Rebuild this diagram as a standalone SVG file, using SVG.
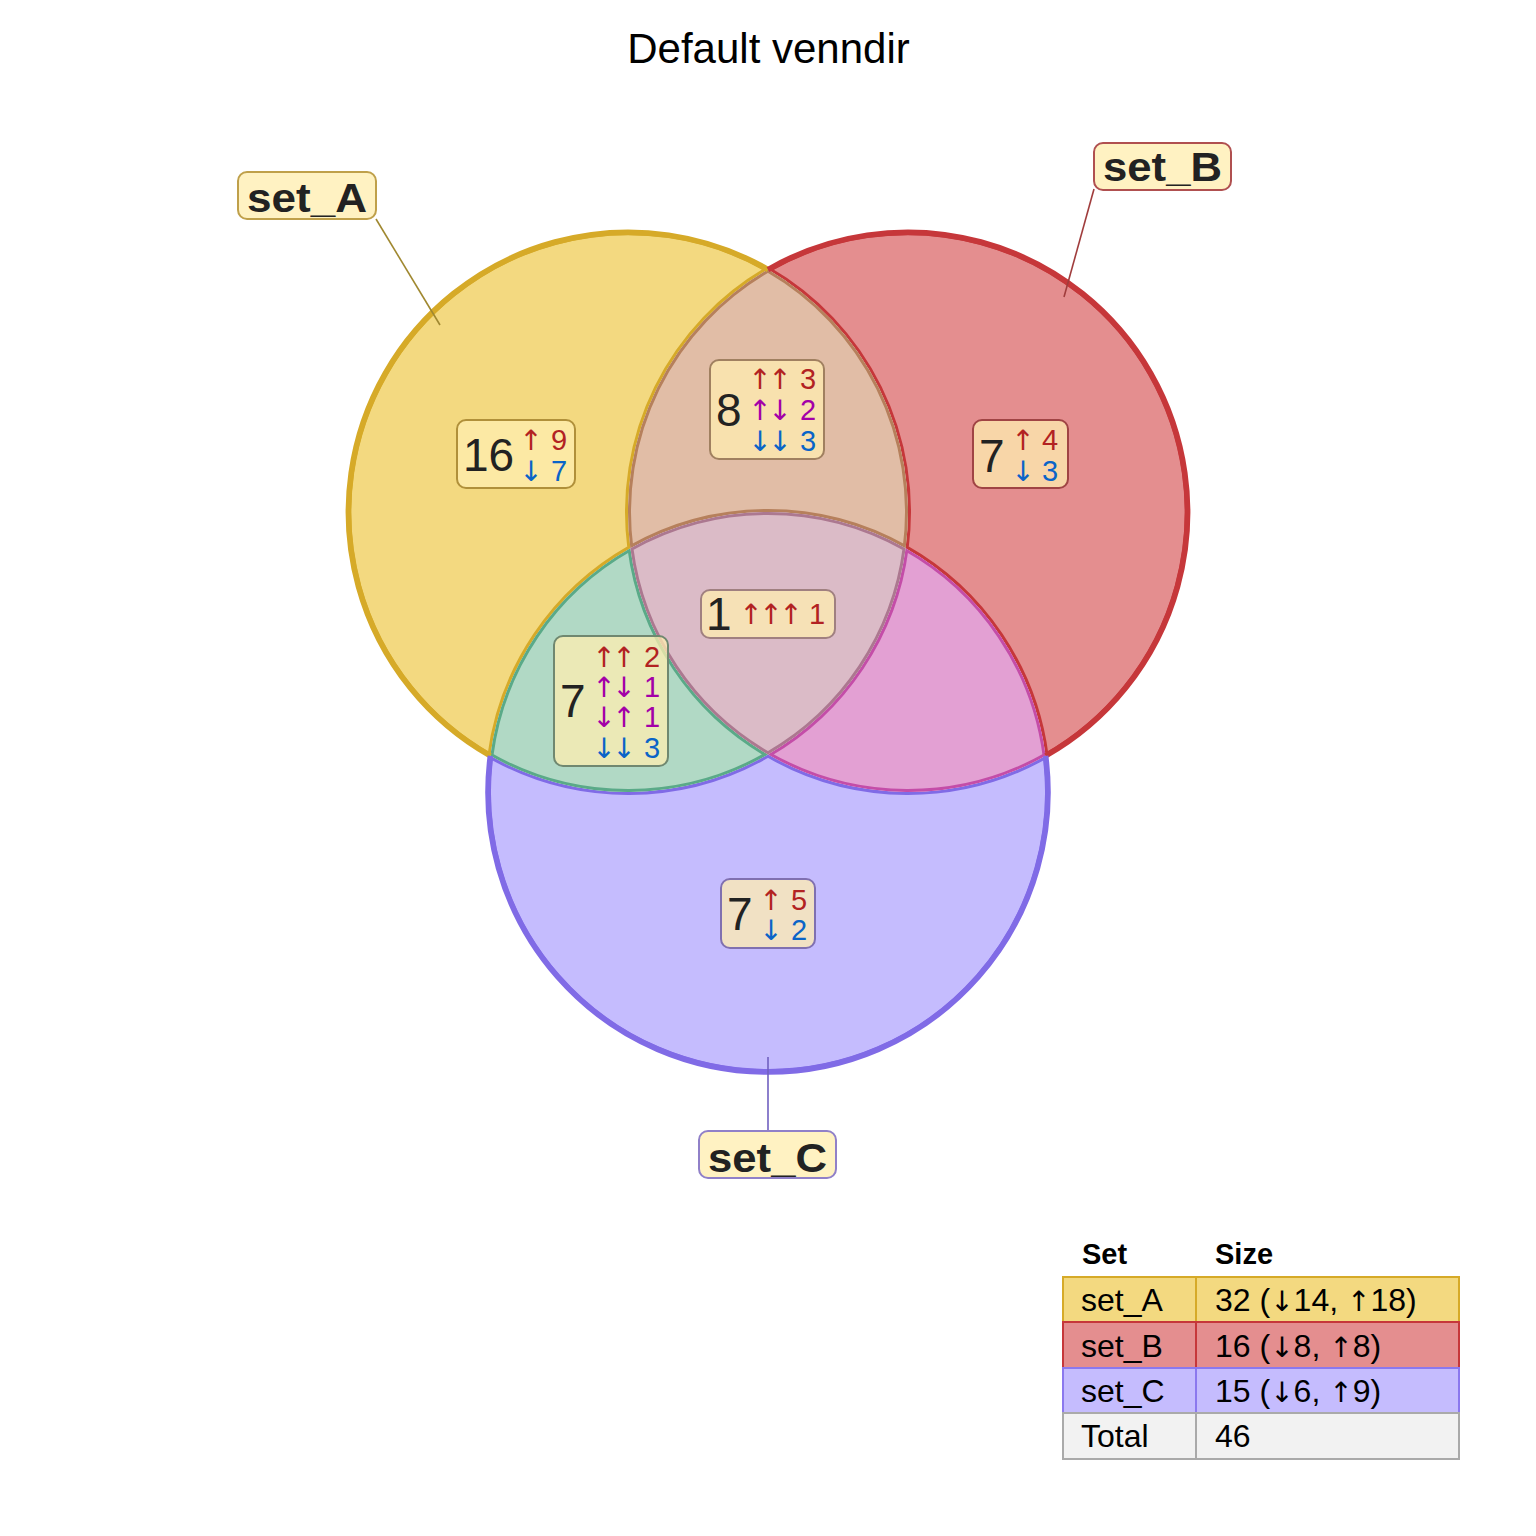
<svg xmlns="http://www.w3.org/2000/svg" xmlns:xlink="http://www.w3.org/1999/xlink" width="1536" height="1536" viewBox="0 0 1536 1536">
<style>
text{font-family:"Liberation Sans",Arial,"DejaVu Sans",sans-serif;}
.title{font-size:42px;fill:#000;}
.cnt{font-size:46px;fill:#222;}
.sm{font-size:29px;}
.ar{text-anchor:middle;font-family:"DejaVu Sans",sans-serif;font-size:28px;}
.ta{font-family:"DejaVu Sans",sans-serif;font-size:28px;}
.up{fill:#B22222;}
.dn{fill:#0A64C8;}
.mx{fill:#A300A8;}
.setlab{font-size:40px;font-weight:bold;fill:#222;}
.box{fill:#FFEEB0;fill-opacity:0.75;stroke-width:2;}
.lab{fill:#FFF2C2;stroke-width:2;}
.lead{stroke-width:1.6;fill:none;}
.tb{font-size:32px;fill:#000;}
.th{font-size:29px;font-weight:bold;fill:#000;}
.cell{stroke-width:2;}
</style>
<defs>
<path id="pA" d="M768,269.51 A280,280 0 1 0 490.35,755.83 A280,280 0 0 1 630.35,548.17 A280,280 0 0 1 768,269.51 Z"/>
<path id="pB" d="M768,269.51 A280,280 0 1 1 1045.65,755.83 A280,280 0 0 0 905.65,548.17 A280,280 0 0 0 768,269.51 Z"/>
<path id="pC" d="M490.35,755.83 A280,280 0 1 0 1045.65,755.83 A280,280 0 0 1 768,754.49 A280,280 0 0 1 490.35,755.83 Z"/>
<path id="pAB" d="M768,269.51 A280,280 0 0 1 905.65,548.17 A280,280 0 0 0 630.35,548.17 A280,280 0 0 1 768,269.51 Z"/>
<path id="pAC" d="M490.35,755.83 A280,280 0 0 1 630.35,548.17 A280,280 0 0 0 768,754.49 A280,280 0 0 1 490.35,755.83 Z"/>
<path id="pBC" d="M1045.65,755.83 A280,280 0 0 0 905.65,548.17 A280,280 0 0 1 768,754.49 A280,280 0 0 0 1045.65,755.83 Z"/>
<path id="pABC" d="M630.35,548.17 A280,280 0 0 1 905.65,548.17 A280,280 0 0 1 768,754.49 A280,280 0 0 1 630.35,548.17 Z"/>
<clipPath id="cA"><use xlink:href="#pA"/></clipPath>
<clipPath id="cB"><use xlink:href="#pB"/></clipPath>
<clipPath id="cC"><use xlink:href="#pC"/></clipPath>
<clipPath id="cAB"><use xlink:href="#pAB"/></clipPath>
<clipPath id="cAC"><use xlink:href="#pAC"/></clipPath>
<clipPath id="cBC"><use xlink:href="#pBC"/></clipPath>
<clipPath id="cABC"><use xlink:href="#pABC"/></clipPath>
</defs>
<rect width="1536" height="1536" fill="#fff"/>
<text class="title" x="768.5" y="63" text-anchor="middle">Default venndir</text>

<g id="regions" stroke-width="6">
<use id="region-A" xlink:href="#pA" fill="#F3D980" stroke="#D6AA28" clip-path="url(#cA)"/>
<use id="region-B" xlink:href="#pB" fill="#E48E8F" stroke="#C6373A" clip-path="url(#cB)"/>
<use id="region-C" xlink:href="#pC" fill="#C5BCFE" stroke="#806BE6" clip-path="url(#cC)"/>
<use id="region-AB" xlink:href="#pAB" fill="#E1BDA6" stroke="#B6805C" clip-path="url(#cAB)"/>
<use id="region-AC" xlink:href="#pAC" fill="#B1D9C5" stroke="#5AAA88" clip-path="url(#cAC)"/>
<use id="region-BC" xlink:href="#pBC" fill="#E3A0D3" stroke="#C44DA8" clip-path="url(#cBC)"/>
<use id="region-ABC" xlink:href="#pABC" fill="#DBBBC7" stroke="#AC7890" clip-path="url(#cABC)"/>
</g>
<g id="outlines" fill="none" stroke-width="5.5">
<path d="M768,269.51 A280,280 0 1 0 490.35,755.83" stroke="#D6AA28"/>
<path d="M768,269.51 A280,280 0 1 1 1045.65,755.83" stroke="#C6373A"/>
<path d="M490.35,755.83 A280,280 0 1 0 1045.65,755.83" stroke="#806BE6"/>
</g>

<g id="connectors">
<line class="lead" x1="376" y1="219" x2="440" y2="325" stroke="#A08830"/>
<line class="lead" x1="1094" y1="189" x2="1064" y2="297" stroke="#A03C3C"/>
<line class="lead" x1="768" y1="1057" x2="768" y2="1131" stroke="#7060C0"/>
</g>

<g id="node-set_A">
<rect class="lab" x="238" y="172" width="138" height="47" rx="9" stroke="#BFA04A"/>
<text class="setlab" x="247" y="212" textLength="120" lengthAdjust="spacingAndGlyphs">set_A</text>
</g>
<g id="node-set_B">
<rect class="lab" x="1094" y="143" width="137" height="47" rx="9" stroke="#B05050"/>
<text class="setlab" x="1103" y="181" textLength="119" lengthAdjust="spacingAndGlyphs">set_B</text>
</g>
<g id="node-set_C">
<rect class="lab" x="699" y="1131" width="137" height="47" rx="9" stroke="#9080C8"/>
<text class="setlab" x="708" y="1172" textLength="119" lengthAdjust="spacingAndGlyphs">set_C</text>
</g>

<g id="count-A">
<rect class="box" x="457" y="420" width="118" height="68" rx="9" stroke="#B0903A"/>
<text class="cnt" x="463" y="471">16</text>
<text class="ar" x="531" y="450"><tspan class="up">↑</tspan><tspan class="dn" x="531" dy="31">↓</tspan></text>
<text class="sm" x="551" y="450"><tspan class="up">9</tspan><tspan class="dn" x="551" dy="31">7</tspan></text>
</g>
<g id="count-AB">
<rect class="box" x="710" y="360" width="114" height="99" rx="9" stroke="#A08060"/>
<text class="cnt" x="716" y="426">8</text>
<text class="ar" x="760 780" y="389"><tspan class="up">↑↑</tspan><tspan class="mx" x="760 780" dy="31">↑↓</tspan><tspan class="dn" x="760 780" dy="31">↓↓</tspan></text>
<text class="sm" x="800" y="389"><tspan class="up">3</tspan><tspan class="mx" x="800" dy="31">2</tspan><tspan class="dn" x="800" dy="31">3</tspan></text>
</g>
<g id="count-B">
<rect class="box" x="973" y="420" width="95" height="68" rx="9" stroke="#A04444"/>
<text class="cnt" x="979" y="472">7</text>
<text class="ar" x="1023" y="450"><tspan class="up">↑</tspan><tspan class="dn" x="1023" dy="31">↓</tspan></text>
<text class="sm" x="1042" y="450"><tspan class="up">4</tspan><tspan class="dn" x="1042" dy="31">3</tspan></text>
</g>
<g id="count-ABC">
<rect class="box" x="701" y="590" width="134" height="48" rx="9" stroke="#A08080"/>
<text class="cnt" x="706" y="630">1</text>
<text class="ar up" x="751 771 791" y="624">↑↑↑</text>
<text class="sm up" x="809" y="624">1</text>
</g>
<g id="count-AC">
<rect class="box" x="554" y="636" width="114" height="130" rx="9" stroke="#708870"/>
<text class="cnt" x="560" y="717">7</text>
<text class="ar" x="604 624" y="667"><tspan class="up">↑↑</tspan><tspan class="mx" x="604 624" dy="30">↑↓</tspan><tspan class="mx" x="604 624" dy="30">↓↑</tspan><tspan class="dn" x="604 624" dy="31">↓↓</tspan></text>
<text class="sm" x="644" y="667"><tspan class="up">2</tspan><tspan class="mx" x="644" dy="30">1</tspan><tspan class="mx" x="644" dy="30">1</tspan><tspan class="dn" x="644" dy="31">3</tspan></text>
</g>
<g id="count-C">
<rect class="box" x="721" y="879" width="94" height="69" rx="9" stroke="#8070B0"/>
<text class="cnt" x="727" y="930">7</text>
<text class="ar" x="771" y="910"><tspan class="up">↑</tspan><tspan class="dn" x="771" dy="30">↓</tspan></text>
<text class="sm" x="791" y="910"><tspan class="up">5</tspan><tspan class="dn" x="791" dy="30">2</tspan></text>
</g>

<g id="table">
<text class="th" x="1082" y="1264">Set</text>
<text class="th" x="1215" y="1264">Size</text>
<g class="cell" fill="#F3D980" stroke="#D6AA28">
<rect x="1063" y="1277" width="133" height="45"/><rect x="1196" y="1277" width="263" height="45"/>
</g>
<g class="cell" fill="#E48E8F" stroke="#C6373A">
<rect x="1063" y="1322" width="133" height="46"/><rect x="1196" y="1322" width="263" height="46"/>
</g>
<g class="cell" fill="#C5BCFE" stroke="#8B78EE">
<rect x="1063" y="1368" width="133" height="45"/><rect x="1196" y="1368" width="263" height="45"/>
</g>
<g class="cell" fill="#F2F2F2" stroke="#AAAAAA">
<rect x="1063" y="1413" width="133" height="46"/><rect x="1196" y="1413" width="263" height="46"/>
</g>
<text class="tb" x="1081" y="1311">set_A</text><text class="tb" x="1215" y="1311">32 (<tspan class="ta">↓</tspan>14, <tspan class="ta">↑</tspan>18)</text>
<text class="tb" x="1081" y="1357">set_B</text><text class="tb" x="1215" y="1357">16 (<tspan class="ta">↓</tspan>8, <tspan class="ta">↑</tspan>8)</text>
<text class="tb" x="1081" y="1402">set_C</text><text class="tb" x="1215" y="1402">15 (<tspan class="ta">↓</tspan>6, <tspan class="ta">↑</tspan>9)</text>
<text class="tb" x="1081" y="1447">Total</text><text class="tb" x="1215" y="1447">46</text>
</g>
</svg>
